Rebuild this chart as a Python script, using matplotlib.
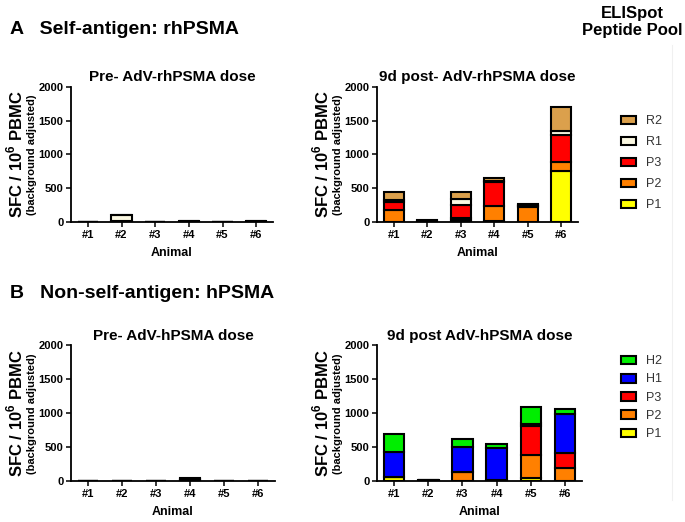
import numpy as np
import matplotlib
matplotlib.use("Agg")
import matplotlib.pyplot as plt
from matplotlib.patches import Patch

plt.rcParams["font.family"] = ["Liberation Sans", "DejaVu Sans"]
plt.rcParams["mathtext.fontset"] = "custom"
plt.rcParams["mathtext.bf"] = "Liberation Sans:bold"
plt.rcParams["mathtext.rm"] = "Liberation Sans"

animals = ["#1", "#2", "#3", "#4", "#5", "#6"]

# self-antigen rhPSMA pools (stacked bottom -> top)
rh_pools = ["P1", "P2", "P3", "R1", "R2"]
rh_pre = {
    "P1": [0, 5, 0, 2, 0, 2],
    "P2": [0, 5, 0, 2, 0, 2],
    "P3": [0, 5, 0, 2, 0, 2],
    "R1": [0, 85, 0, 2, 0, 2],
    "R2": [0, 10, 0, 2, 0, 2],
}
rh_post = {
    "P1": [0, 5, 35, 10, 0, 760],
    "P2": [175, 5, 20, 225, 215, 120],
    "P3": [125, 5, 190, 355, 25, 400],
    "R1": [20, 5, 100, 15, 10, 60],
    "R2": [130, 5, 105, 45, 20, 360],
}

# non-self-antigen hPSMA pools
h_pools = ["P1", "P2", "P3", "H1", "H2"]
h_pre = {
    "P1": [0, 0, 2, 10, 0, 0],
    "P2": [0, 0, 2, 10, 0, 0],
    "P3": [0, 0, 2, 10, 0, 0],
    "H1": [0, 0, 2, 10, 0, 0],
    "H2": [0, 0, 2, 15, 0, 0],
}
h_post = {
    "P1": [60, 5, 5, 5, 45, 10],
    "P2": [10, 5, 125, 5, 345, 190],
    "P3": [0, 5, 10, 5, 430, 210],
    "H1": [365, 5, 370, 470, 30, 575],
    "H2": [255, 5, 110, 65, 250, 80],
}

colors = {"P1": "#ffff00", "P2": "#ff8000", "P3": "#ff0000",
          "R1": "#fbf8e2", "R2": "#dba04c",
          "H1": "#0000ff", "H2": "#00ee00"}

W, H = 685, 522


def px_rect(x0, x1, ytop, ybot):
    return [x0 / W, 1 - ybot / H, (x1 - x0) / W, (ybot - ytop) / H]


def draw_panel(rect, title, pools, data, lab_x):
    ax = fig.add_axes(rect)
    x = np.arange(len(animals))
    bottom = np.zeros(len(animals))
    for p in pools:
        vals = np.array(data[p], dtype=float)
        ax.bar(x, vals, 0.6, bottom=bottom, color=colors[p],
               edgecolor="black", linewidth=1.5, zorder=3)
        bottom += vals
    ax.set_xlim(-0.5, 5.5)
    ax.set_ylim(0, 2000)
    ax.set_yticks([0, 500, 1000, 1500, 2000])
    ax.set_xticks(x)
    ax.set_xticklabels(animals)
    for s in ("top", "right"):
        ax.spines[s].set_visible(False)
    for s in ("left", "bottom"):
        ax.spines[s].set_linewidth(1.3)
    ax.tick_params(width=1.1, length=3.5, labelsize=8, pad=2)
    for t in ax.get_xticklabels() + ax.get_yticklabels():
        t.set_fontweight("bold")
    ax.set_title(title, fontsize=11, fontweight="bold", pad=4)
    ax.set_xlabel("Animal", fontsize=9, fontweight="bold", labelpad=5)
    pos = ax.get_position()
    yc = pos.y0 + pos.height / 2
    fig.text(lab_x / W, yc, r"SFC / 10$^{\mathbf{6}}$ PBMC", rotation=90,
             ha="center", va="center", fontsize=12, fontweight="bold")
    fig.text((lab_x + 17) / W, yc, "(background adjusted)", rotation=90,
             ha="center", va="center", fontsize=8, fontweight="bold")
    return ax


fig = plt.figure(figsize=(6.85, 5.22), dpi=100)

draw_panel(px_rect(71, 273, 86.7, 222), "Pre- AdV-rhPSMA dose", rh_pools, rh_pre, 15)
draw_panel(px_rect(377, 578, 86.7, 222), "9d post- AdV-rhPSMA dose", rh_pools, rh_post, 321)
draw_panel(px_rect(71, 275, 345.3, 481.3), "Pre- AdV-hPSMA dose", h_pools, h_pre, 15)
draw_panel(px_rect(377, 582, 345.3, 481.3), "9d post AdV-hPSMA dose", h_pools, h_post, 321)

fig.text(10 / W, 1 - 30 / H, "A   Self-antigen: rhPSMA", fontsize=14,
         fontweight="bold", va="center")
fig.text(10 / W, 1 - 293 / H, "B   Non-self-antigen: hPSMA", fontsize=14,
         fontweight="bold", va="center")
fig.text(632 / W, 1 - 22 / H, "ELISpot\nPeptide Pool", fontsize=12,
         fontweight="bold", ha="center", va="center", linespacing=1.15)

# legends
for pools, ytop, sp in ((rh_pools, 104, 0.72), (h_pools, 344, 0.5)):
    handles = [Patch(facecolor=colors[p], edgecolor="black", linewidth=1.5, label=p)
               for p in reversed(pools)]
    leg = fig.legend(handles=handles, loc="upper left",
                     bbox_to_anchor=(610 / W, 1 - ytop / H), frameon=False,
                     fontsize=9, handlelength=1.2, handleheight=0.7,
                     labelspacing=sp, handletextpad=0.8)
    for t in leg.get_texts():
        t.set_color("#333333")

fig.add_artist(plt.Line2D([672 / W, 672 / W], [1 - 500 / H, 1 - 45 / H],
                          color="#f0f0f0", linewidth=0.8))

fig.savefig("out.png", dpi=100)
